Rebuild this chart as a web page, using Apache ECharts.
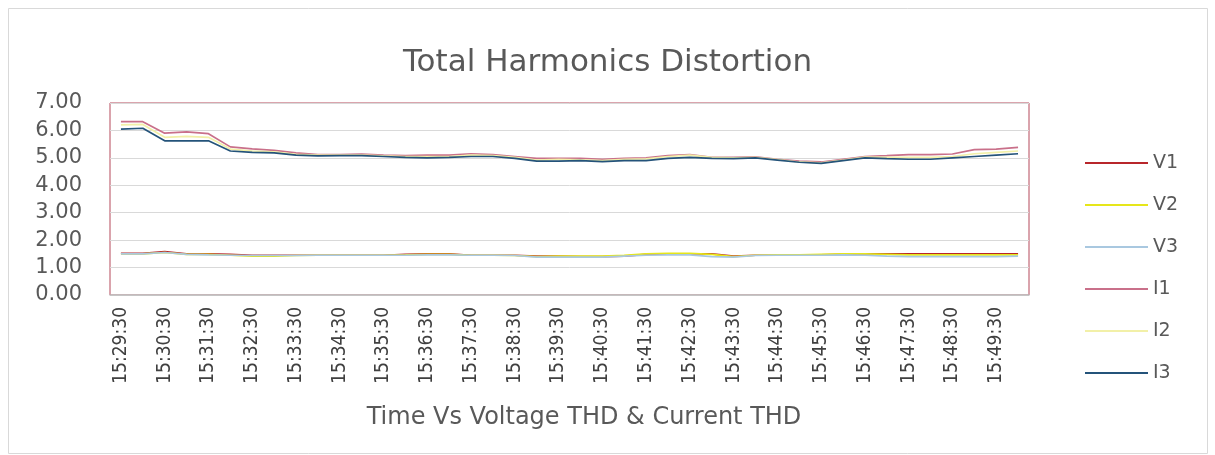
<!DOCTYPE html>
<html>
<head>
<meta charset="utf-8">
<script src="https://cdn.jsdelivr.net/npm/echarts@6/dist/echarts.min.js"></script>
<style>
  html, body { margin: 0; padding: 0; background: #ffffff; }
  #chart { width: 1215px; height: 455px; }
</style>
</head>
<body>
<div id="chart"></div>
<script>
var categories = [
  '15:29:30','15:30:00','15:30:30','15:31:00','15:31:30','15:32:00','15:32:30','15:33:00',
  '15:33:30','15:34:00','15:34:30','15:35:00','15:35:30','15:36:00','15:36:30','15:37:00',
  '15:37:30','15:38:00','15:38:30','15:39:00','15:39:30','15:40:00','15:40:30','15:41:00',
  '15:41:30','15:42:00','15:42:30','15:43:00','15:43:30','15:44:00','15:44:30','15:45:00',
  '15:45:30','15:46:00','15:46:30','15:47:00','15:47:30','15:48:00','15:48:30','15:49:00',
  '15:49:30','15:50:00'
];

var V1 = [1.52,1.52,1.58,1.50,1.50,1.48,1.45,1.45,1.45,1.45,1.45,1.45,1.45,1.48,1.50,1.50,1.45,1.45,1.45,1.42,1.42,1.40,1.40,1.42,1.48,1.50,1.50,1.50,1.42,1.45,1.45,1.46,1.46,1.48,1.50,1.50,1.50,1.50,1.50,1.50,1.50,1.50];
var V2 = [1.50,1.50,1.55,1.48,1.48,1.45,1.42,1.42,1.44,1.45,1.45,1.45,1.45,1.46,1.48,1.48,1.45,1.45,1.44,1.40,1.42,1.42,1.42,1.45,1.50,1.52,1.52,1.48,1.40,1.45,1.46,1.46,1.48,1.50,1.50,1.48,1.46,1.46,1.46,1.46,1.46,1.46];
var V3 = [1.50,1.50,1.55,1.48,1.46,1.45,1.44,1.44,1.44,1.45,1.45,1.45,1.45,1.45,1.46,1.46,1.45,1.45,1.44,1.38,1.38,1.38,1.38,1.42,1.45,1.46,1.46,1.40,1.38,1.44,1.45,1.45,1.45,1.46,1.45,1.42,1.40,1.40,1.40,1.40,1.40,1.42];
var I1 = [6.32,6.32,5.90,5.95,5.88,5.40,5.33,5.27,5.18,5.12,5.12,5.14,5.10,5.08,5.10,5.10,5.15,5.12,5.05,4.98,4.98,4.98,4.95,4.98,5.00,5.08,5.12,5.02,5.02,5.04,4.95,4.88,4.85,4.95,5.05,5.08,5.12,5.12,5.14,5.30,5.32,5.38];
var I2 = [6.20,6.22,5.75,5.78,5.75,5.32,5.25,5.22,5.13,5.10,5.10,5.10,5.07,5.05,5.05,5.05,5.10,5.08,5.02,4.92,4.95,4.93,4.90,4.95,4.96,5.05,5.10,5.02,5.00,5.02,4.94,4.85,4.82,4.92,5.03,5.02,5.02,5.02,5.05,5.15,5.20,5.25];
var I3 = [6.05,6.08,5.62,5.62,5.62,5.25,5.20,5.18,5.10,5.07,5.08,5.08,5.05,5.02,5.00,5.02,5.05,5.05,4.98,4.88,4.88,4.90,4.86,4.90,4.90,4.98,5.02,4.98,4.97,5.00,4.92,4.84,4.80,4.90,5.00,4.97,4.95,4.95,5.00,5.05,5.10,5.15];

var seriesNames = ['V1','V2','V3','I1','I2','I3'];
var seriesData = [V1, V2, V3, I1, I2, I3];
var seriesColors = ['#b8262b','#e6e61a','#a9c8e0','#c9708a','#f2f0a8','#24537a'];

var chart = echarts.init(document.getElementById('chart'));
var option = {
  backgroundColor: '#ffffff',
  animation: false,
  graphic: [{
    type: 'rect',
    shape: { x: 8.5, y: 8.5, width: 1199, height: 445 },
    style: { fill: 'none', stroke: '#d9d9d9', lineWidth: 1 },
    silent: true
  }],
  title: {
    text: 'Total Harmonics Distortion',
    left: 'center',
    top: 42,
    textStyle: { fontFamily: 'DejaVu Sans', fontSize: 31, fontWeight: 'normal', color: '#595959' }
  },
  legend: {
    orient: 'vertical',
    left: 1080,
    top: 148,
    icon: 'rect',
    itemWidth: 63,
    itemHeight: 2,
    itemGap: 22,
    textStyle: { fontFamily: 'DejaVu Sans', fontSize: 19, color: '#595959', lineHeight: 20 },
    data: seriesNames
  },
  grid: {
    left: 110, right: 186, top: 103, bottom: 160,
    show: true, borderColor: '#b5485a', borderWidth: 1
  },
  xAxis: {
    type: 'category',
    data: categories,
    boundaryGap: true,
    name: 'Time Vs Voltage THD & Current THD',
    nameLocation: 'middle',
    nameGap: 111,
    nameTextStyle: { fontFamily: 'DejaVu Sans', fontSize: 24, color: '#595959', padding: [0, 0, 0, 29] },
    axisLine: { lineStyle: { color: '#bfbfbf', width: 1.5 } },
    axisTick: { show: false },
    axisLabel: {
      interval: 1, rotate: 90, margin: 12,
      fontFamily: 'DejaVu Sans Condensed', fontSize: 19, color: '#404040'
    }
  },
  yAxis: {
    type: 'value',
    min: 0, max: 7, interval: 1,
    axisLine: { show: false },
    axisTick: { show: false },
    splitLine: { lineStyle: { color: '#d9d9d9', width: 1 } },
    axisLabel: {
      margin: 28,
      fontFamily: 'DejaVu Sans', fontSize: 21, color: '#595959',
      formatter: function (v) { return v.toFixed(2); }
    }
  },
  series: seriesNames.map(function (n, k) {
    return {
      name: n, type: 'line', data: seriesData[k],
      symbol: 'none', smooth: false,
      lineStyle: { color: seriesColors[k], width: 1.7 },
      itemStyle: { color: seriesColors[k] }
    };
  })
};
chart.setOption(option);
</script>
</body>
</html>
